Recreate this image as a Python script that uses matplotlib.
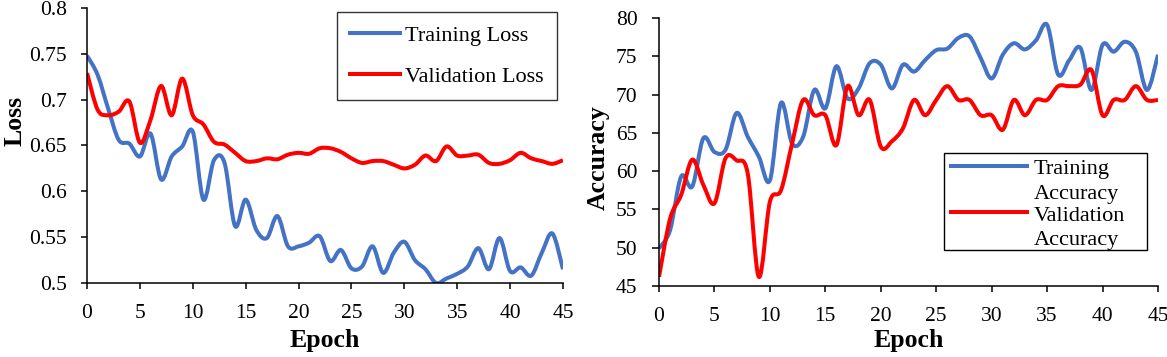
import numpy as np
import matplotlib
matplotlib.use("Agg")
import matplotlib.pyplot as plt
from matplotlib.path import Path
from matplotlib.patches import PathPatch, Rectangle
from matplotlib.lines import Line2D
from matplotlib.legend_handler import HandlerLine2D

plt.rcParams['font.family'] = ['Liberation Serif', 'DejaVu Serif']

epochs = list(range(46))

train_loss = [0.748, 0.727, 0.690, 0.656, 0.652, 0.638, 0.663, 0.613, 0.638, 0.649,
              0.665, 0.591, 0.634, 0.631, 0.562, 0.591, 0.558, 0.549, 0.573, 0.540,
              0.540, 0.544, 0.551, 0.524, 0.536, 0.516, 0.518, 0.540, 0.511, 0.533,
              0.545, 0.525, 0.515, 0.500, 0.505, 0.510, 0.518, 0.538, 0.515, 0.549,
              0.513, 0.517, 0.508, 0.533, 0.554, 0.515]
val_loss = [0.729, 0.689, 0.683, 0.687, 0.698, 0.653, 0.678, 0.715, 0.683, 0.723,
            0.683, 0.673, 0.654, 0.651, 0.642, 0.633, 0.633, 0.636, 0.635, 0.640,
            0.642, 0.641, 0.647, 0.647, 0.643, 0.636, 0.631, 0.633, 0.633, 0.629,
            0.625, 0.629, 0.639, 0.633, 0.649, 0.639, 0.639, 0.640, 0.631, 0.630,
            0.634, 0.642, 0.636, 0.633, 0.630, 0.634]

train_acc = [49.9, 52.3, 59.3, 58.0, 64.3, 62.5, 62.8, 67.6, 64.5, 61.9,
             58.8, 68.9, 63.6, 64.5, 70.6, 68.2, 73.7, 69.5, 70.8, 74.1,
             73.9, 70.8, 73.9, 73.0, 74.5, 75.8, 76.0, 77.4, 77.6, 74.8,
             72.1, 75.2, 76.7, 75.9, 77.1, 79.1, 72.6, 74.5, 76.1, 70.6,
             76.5, 75.6, 76.9, 75.6, 70.6, 75.2]
val_acc = [46.2, 53.8, 56.9, 61.5, 58.2, 55.8, 61.7, 61.4, 59.7, 46.2,
           56.0, 57.5, 63.6, 69.3, 67.3, 67.3, 63.4, 71.1, 67.3, 69.3,
           63.2, 63.9, 65.6, 69.3, 67.3, 69.3, 71.1, 69.3, 69.3, 67.3,
           67.3, 65.4, 69.3, 67.3, 69.3, 69.3, 71.1, 71.1, 71.3, 73.2,
           67.3, 69.3, 69.3, 71.1, 69.3, 69.3]

loss_ticks = [0.5, 0.55, 0.6, 0.65, 0.7, 0.75, 0.8]
acc_ticks = [45, 50, 55, 60, 65, 70, 75, 80]
epoch_ticks = [0, 5, 10, 15, 20, 25, 30, 35, 40, 45]

BLUE = '#4472C4'
RED = '#FF0000'
LW = 2.9


def smooth_line(ax, x, y, color):
    # Excel-style smoothed line: Catmull-Rom segments drawn as cubic Beziers
    p = np.column_stack([x, y]).astype(float)
    pp = np.vstack([p[0], p, p[-1]])
    verts = [p[0]]
    codes = [Path.MOVETO]
    for i in range(len(p) - 1):
        p0, p1, p2, p3 = pp[i], pp[i + 1], pp[i + 2], pp[i + 3]
        verts += [p1 + (p2 - p0) / 6, p2 - (p3 - p1) / 6, p2]
        codes += [Path.CURVE4] * 3
    ax.add_patch(PathPatch(Path(verts, codes), facecolor='none', edgecolor=color,
                           lw=LW, capstyle='butt', joinstyle='round'))


class UpperLine(HandlerLine2D):
    # handle sits on the first text line, pushed to the right of its box
    def create_artists(self, legend, orig_handle, xdescent, ydescent, width,
                       height, fontsize, trans):
        arts = super().create_artists(legend, orig_handle, xdescent, ydescent,
                                      width, height, fontsize, trans)
        for a in arts:
            xd = np.asarray(a.get_xdata(), dtype=float)
            if len(xd) == 2:
                a.set_xdata([xd[1] - 2.2 * fontsize, xd[1]])
            a.set_ydata(np.asarray(a.get_ydata(), dtype=float) + 0.7 * fontsize)
        return arts


def style(ax, ylabel, yticks, ylabels, ylen, xlpad):
    for s in ['top', 'right']:
        ax.spines[s].set_visible(False)
    for s in ['left', 'bottom']:
        ax.spines[s].set_linewidth(1.1)
    ax.set_xlim(0, 45)
    ax.set_xticks(epoch_ticks)
    ax.set_yticks(yticks)
    ax.set_yticklabels(ylabels)
    ax.tick_params(axis='x', labelsize=15.5, length=4, width=1.1, pad=11)
    ax.tick_params(axis='y', labelsize=15.5, length=ylen, width=1.1, pad=10.5)
    ax.set_xlabel('Epoch', fontsize=18.5, fontweight='bold', labelpad=xlpad)
    ax.set_ylabel(ylabel, fontsize=18.5, fontweight='bold')


fig = plt.figure(figsize=(11.67, 3.57), dpi=100)

ax1 = fig.add_axes([0.0746, 0.2073, 0.4078, 0.7703])
smooth_line(ax1, epochs, train_loss, BLUE)
smooth_line(ax1, epochs, val_loss, RED)
ax1.set_ylim(0.5, 0.8)
style(ax1, 'Loss', loss_ticks, ['{:g}'.format(v) for v in loss_ticks], 4, 4.5)
ax1.yaxis.set_label_coords(-0.128, 0.59)
h1 = [Line2D([], [], color=BLUE, lw=LW), Line2D([], [], color=RED, lw=LW)]
leg1 = ax1.legend(h1, ['Training Loss', 'Validation Loss'], loc='upper left',
                  bbox_to_anchor=(0.525, 0.985), fontsize=16, frameon=True,
                  fancybox=False, edgecolor='black', handlelength=2.25,
                  handletextpad=0.25, labelspacing=0.95, borderpad=0.58,
                  borderaxespad=0)
leg1.get_frame().set_linewidth(1.0)

ax2 = fig.add_axes([0.5647, 0.1989, 0.4276, 0.7507])
smooth_line(ax2, epochs, train_acc, BLUE)
smooth_line(ax2, epochs, val_acc, RED)
ax2.set_ylim(45, 80)
style(ax2, 'Accuracy', acc_ticks, [str(v) for v in acc_ticks], 5, 2.5)
ax2.yaxis.set_label_coords(-0.098, 0.48)
h2 = [Line2D([], [], color=BLUE, lw=LW), Line2D([], [], color=RED, lw=LW)]
# fixed-size legend box as in the original
box_x, box_y, box_w, box_h = 0.571, 0.134, 0.407, 0.362
ax2.add_patch(Rectangle((box_x, box_y), box_w, box_h, transform=ax2.transAxes,
                        facecolor='white', edgecolor='black', lw=1.0,
                        clip_on=False, zorder=4))
leg2 = ax2.legend(h2, ['Training\nAccuracy', 'Validation\nAccuracy'],
                  loc='upper left', bbox_to_anchor=(box_x, box_y + box_h),
                  fontsize=16, frameon=False, handlelength=3.4,
                  handletextpad=0.3, labelspacing=0.14, borderpad=0.33,
                  borderaxespad=0, handler_map={Line2D: UpperLine()})
leg2.set_zorder(5)
for t in leg2.get_texts():
    t.set_linespacing(1.38)

fig.savefig('out.png', dpi=100)
